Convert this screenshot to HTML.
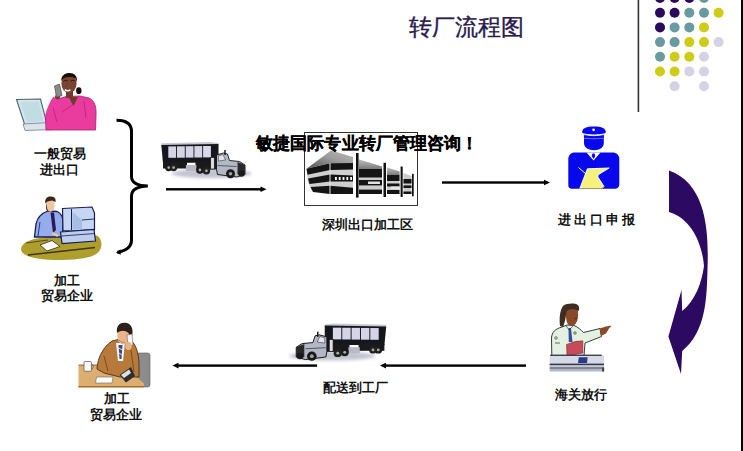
<!DOCTYPE html>
<html><head><meta charset="utf-8">
<style>
html,body{margin:0;padding:0;background:#fff;}
#wrap{position:relative;width:743px;height:451px;overflow:hidden;background:#fff;font-family:"Liberation Sans",sans-serif;}
svg{position:absolute;left:0;top:0;}
.t{position:absolute;white-space:nowrap;line-height:1;color:#111;font-weight:bold;}
</style></head><body>
<div id="wrap">
<svg width="743" height="451" viewBox="0 0 743 451">
<!-- right border -->
<rect x="741" y="0" width="2" height="451" fill="#000"/>
<!-- top divider -->
<rect x="637.6" y="0" width="1.6" height="112" fill="#333"/>
<!-- dots -->
<g id="dots">
<circle cx="660.0" cy="-2.0" r="5" fill="#2b0a5e"/>
<circle cx="674.6" cy="-2.0" r="5" fill="#2b0a5e"/>
<circle cx="689.3" cy="-2.0" r="5" fill="#2b0a5e"/>
<circle cx="704.0" cy="-2.0" r="5" fill="#699a9f"/>
<circle cx="660.0" cy="12.7" r="5" fill="#2b0a5e"/>
<circle cx="674.6" cy="12.7" r="5" fill="#2b0a5e"/>
<circle cx="689.3" cy="12.7" r="5" fill="#699a9f"/>
<circle cx="704.0" cy="12.7" r="5" fill="#699a9f"/>
<circle cx="718.6" cy="12.7" r="5" fill="#cecc16"/>
<circle cx="660.0" cy="27.4" r="5" fill="#2b0a5e"/>
<circle cx="674.6" cy="27.4" r="5" fill="#699a9f"/>
<circle cx="689.3" cy="27.4" r="5" fill="#699a9f"/>
<circle cx="704.0" cy="27.4" r="5" fill="#cecc16"/>
<circle cx="660.0" cy="42.1" r="5" fill="#699a9f"/>
<circle cx="674.6" cy="42.1" r="5" fill="#699a9f"/>
<circle cx="689.3" cy="42.1" r="5" fill="#cecc16"/>
<circle cx="704.0" cy="42.1" r="5" fill="#cecc16"/>
<circle cx="718.6" cy="42.1" r="5" fill="#d3d3e3"/>
<circle cx="660.0" cy="56.8" r="5" fill="#699a9f"/>
<circle cx="674.6" cy="56.8" r="5" fill="#cecc16"/>
<circle cx="689.3" cy="56.8" r="5" fill="#cecc16"/>
<circle cx="704.0" cy="56.8" r="5" fill="#d3d3e3"/>
<circle cx="660.0" cy="71.5" r="5" fill="#cecc16"/>
<circle cx="674.6" cy="71.5" r="5" fill="#cecc16"/>
<circle cx="689.3" cy="71.5" r="5" fill="#d3d3e3"/>
<circle cx="704.0" cy="71.5" r="5" fill="#d3d3e3"/>
<circle cx="674.6" cy="86.2" r="5" fill="#d3d3e3"/>
<circle cx="704.0" cy="86.2" r="5" fill="#d3d3e3"/>
</g>
<!-- bracket -->
<path d="M116.5,120.2 C126,120.2 131.5,123.5 131.5,131.5 L131.5,176.5 C131.5,182.5 137,185.8 147.8,186 C137,186.4 131.5,189.5 131.5,196 L131.5,240 C131.5,246.5 127,250.5 117.5,252.3" fill="none" stroke="#000" stroke-width="3"/>
<path d="M116,252.8 L120.5,249.2 L120.8,254.8 Z" fill="#000"/>
<!-- arrows -->
<g fill="#000">
<rect x="166" y="188.1" width="96" height="2.4"/>
<path d="M266.5,189.3 L260.5,186.5 L260.5,192.1 Z"/>
<rect x="442" y="181.3" width="103" height="2.4"/>
<path d="M550,182.5 L544,179.7 L544,185.3 Z"/>
<rect x="384" y="364.4" width="142" height="2.4"/>
<path d="M380,365.6 L386,362.8 L386,368.4 Z"/>
<rect x="176" y="364.4" width="141" height="2.4"/>
<path d="M172.5,365.6 L178.5,362.8 L178.5,368.4 Z"/>
</g>
<!-- curved purple arrow -->
<path d="M669,170.6 C707.5,184.2 708.7,234.2 707.5,268.5 C706.7,297.1 706.5,331.1 682.2,351 L681,374 L668.4,336.5 L681.5,290 L682.2,311 C695.6,300.2 701.7,282.5 704,266 C702.3,244.3 691.8,218.7 669,212 Z" fill="#2c0a62"/>

<!-- factory -->
<g id="factory">
<defs>
<linearGradient id="roofg" x1="0" y1="1" x2="1" y2="0"><stop offset="0" stop-color="#505050"/><stop offset="0.55" stop-color="#9c9c9c"/><stop offset="1" stop-color="#b8b8b8"/></linearGradient>
<linearGradient id="roofh" x1="0" y1="0" x2="0" y2="1"><stop offset="0" stop-color="#c0c0c0"/><stop offset="1" stop-color="#7a7a7a"/></linearGradient>
</defs>
<!-- left block -->
<polygon points="306.5,168.8 331,150.5 353,157 353,163 330,163.3" fill="url(#roofg)"/>
<polygon points="306.5,168.8 330,163.3 353,163 353,194 330,194 312,191 308,182" fill="#cfcfcf"/>
<polygon points="306.5,168.8 330,163.3 353,163 353,169.5 330,170 307.5,174.8" fill="#141414"/>
<polygon points="308,178.5 330,174.5 353,175.5 353,181.6 330,181.5 309.5,184" fill="#141414"/>
<polygon points="310.5,187 330,185.8 353,187.7 353,194 330,194 313,192" fill="#141414"/>
<rect x="335" y="177" width="1.8" height="3" fill="#fff"/><rect x="338.8" y="177" width="1.8" height="3" fill="#fff"/><rect x="342.6" y="177" width="1.8" height="3" fill="#fff"/><rect x="346.4" y="177" width="1.8" height="3" fill="#fff"/><rect x="350.2" y="177" width="1.8" height="3" fill="#fff"/>
<rect x="329.5" y="163" width="1" height="31" fill="#e8e8e8"/>
<!-- section 2 -->
<polygon points="359,159.5 382,166.5 382,194 359,194" fill="#cccccc"/>
<polygon points="359,159.5 382,166.5 382,169 359,169" fill="url(#roofh)"/>
<rect x="359" y="169" width="23" height="8.5" fill="#141414"/>
<rect x="359" y="180" width="23" height="5.4" fill="#141414"/>
<rect x="368" y="181.5" width="12" height="2.5" fill="#e0e0e0"/>
<rect x="359" y="189.6" width="23" height="4.4" fill="#141414"/>
<!-- section 3 -->
<polygon points="387,167.5 399.5,171.5 399.5,194 387,194" fill="#cccccc"/>
<polygon points="387,167.5 399.5,171.5 399.5,175 387,175" fill="url(#roofh)"/>
<rect x="387" y="175" width="12.5" height="6" fill="#141414"/>
<rect x="387" y="183.5" width="12.5" height="3" fill="#141414"/>
<rect x="391" y="186.5" width="8" height="2.5" fill="#e6e6e6"/>
<rect x="387" y="190" width="12.5" height="4" fill="#141414"/>
<!-- section 4 -->
<polygon points="403.5,173 411.5,176 411.5,194 403.5,194" fill="#cccccc"/>
<rect x="403.5" y="179" width="8" height="4.5" fill="#141414"/>
<rect x="403.5" y="185.4" width="8" height="2.6" fill="#141414"/>
<rect x="403.5" y="191.5" width="8" height="2.5" fill="#141414"/>
<!-- pillars -->
<rect x="356" y="153" width="2.6" height="44.6" fill="#111"/>
<rect x="383.5" y="162.8" width="2.5" height="34.2" fill="#111"/>
<rect x="400.6" y="166.5" width="2.1" height="30.5" fill="#111"/>
<rect x="412" y="173.8" width="1.7" height="22.5" fill="#111"/>
</g>

<defs>
<filter id="blur1" x="-20%" y="-50%" width="140%" height="200%"><feGaussianBlur stdDeviation="1.5"/></filter>
<g id="truck">
<ellipse cx="50" cy="32" rx="40" ry="4.5" fill="#c4c4d0" filter="url(#blur1)"/>
<polygon points="-0.2,1.8 49,0.5 57,1.5 57,4 -0.2,5" fill="#c8c8d4"/>
<polygon points="-0.2,3.5 57,2.5 57,21 1.5,21.5" fill="#16161e"/>
<rect x="6.8" y="4.9" width="7.8" height="11.4" fill="#d4d4e6"/>
<rect x="15.5" y="4.8" width="7.8" height="11.4" fill="#d4d4e6"/>
<rect x="24.2" y="4.7" width="7.8" height="11.4" fill="#d4d4e6"/>
<rect x="32.9" y="4.6" width="7.8" height="11.4" fill="#d4d4e6"/>
<rect x="41.6" y="4.5" width="7.8" height="11.4" fill="#d8d8e8"/>
<rect x="1.5" y="20" width="24" height="7" fill="#1a1a1a"/>
<rect x="34" y="20" width="22" height="8" fill="#1a1a1a"/>
<rect x="24.4" y="23.5" width="10.5" height="6" fill="#b8b8c6"/>
<circle cx="7.2" cy="26.1" r="3.6" fill="#1a1a1a"/><circle cx="12.1" cy="26.1" r="3.6" fill="#222"/>
<circle cx="38.4" cy="28.5" r="3.8" fill="#1a1a1a"/><circle cx="44.9" cy="29.3" r="3.8" fill="#222"/>
<circle cx="7.2" cy="26.1" r="1.3" fill="#aaa"/><circle cx="12.1" cy="26.1" r="1.3" fill="#aaa"/><circle cx="38.4" cy="28.5" r="1.4" fill="#aaa"/><circle cx="44.9" cy="29.3" r="1.4" fill="#aaa"/>
<rect x="49.2" y="16" width="3.6" height="11.5" fill="#e0e0ea" stroke="#111" stroke-width="0.7"/>
<polygon points="55,13.5 62,11.5 66,12.5 68,19 78,20 83.5,23.5 83.5,33 75,35.5 56,33 55,28" fill="#b4b8c6" stroke="#111" stroke-width="0.9"/>
<polygon points="57,14.5 61.5,13 64,18.5 57,19.5" fill="#e4e4ee" stroke="#222" stroke-width="0.5"/>
<rect x="62.8" y="8.5" width="1.4" height="5" fill="#111"/>
<polygon points="76,20.5 83.5,23.5 83.5,33 76,33" fill="#2a2a2a"/>
<path d="M56,24 L75,25" stroke="#333" stroke-width="0.7"/>
<circle cx="69" cy="32.2" r="4.5" fill="#1a1a1a"/><circle cx="69" cy="32.2" r="1.8" fill="#a0a0a0"/>
<circle cx="80" cy="32" r="3.2" fill="#1a1a1a"/>
</g>
</defs>
<use href="#truck" x="161.5" y="141.5"/>
<use href="#truck" transform="translate(386,323) scale(-1.075,1.03)"/>

<!-- woman -->
<g id="woman">
<polygon points="16.5,99.5 40.5,99 47,124 25,125.5" fill="#d2e8ee" stroke="#4e606c" stroke-width="1.1"/>
<polygon points="20,102 38.5,101.5 43.5,121 27,122.5" fill="#c2dce4"/>
<polygon points="23,124 50,122.5 55,129.5 25,130.5" fill="#dce4ea" stroke="#7c8a96" stroke-width="0.9"/>
<path d="M46,130 L45.5,117 C47,110 52,102 58,99 L66,96.5 L80,96 L89,98 C95,101 96.5,107 96,116 L95.5,130 Z" fill="#ea3c9e" stroke="#a81a68" stroke-width="0.8"/>
<path d="M52,104 L57,122 M84,101 L86,118 M62,112 L74,104" stroke="#b42478" stroke-width="0.8" fill="none"/>
<polygon points="68.5,97 78,97 73.5,106" fill="#6e3c28"/>
<path d="M47,118 C49,110 52,103 55.5,98" stroke="#ea3c9e" stroke-width="5" fill="none"/>
<ellipse cx="57.5" cy="97" rx="2.6" ry="2.2" fill="#6e3c28"/>
<rect x="66" y="90" width="7" height="8" fill="#6e3c28"/>
<ellipse cx="69" cy="83.5" rx="7.6" ry="9.6" fill="#7a4430"/>
<path d="M63.5,81 Q66,79.5 68,81 M70.5,81 Q73,79.5 75,81" stroke="#2a120a" stroke-width="0.8" fill="none"/>
<path d="M61.3,81 C61,75.5 65,73 69.5,73 C74.5,73 77.5,76 77,82 L75.5,78.5 C72.5,76.5 66,76.5 62.8,79 Z" fill="#1a0c08"/>
<ellipse cx="78.8" cy="90.7" rx="2.7" ry="3.4" fill="#1a0c08"/>
<path d="M64.8,89.6 Q67.5,91.6 70.5,89.8" stroke="#fff" stroke-width="1.5" fill="none"/>
<polygon points="54.5,86 59.5,84 62,95.5 56.5,97.5" fill="#8a8a8a" stroke="#3a3a3a" stroke-width="0.6"/>
</g>
<!-- man at computer -->
<g id="man1">
<path d="M21.5,247 C24,241 34,238 48,237 L70,236 L97,235.5 C101,238 103,244 100,250 C97,256 86,259.5 62,260 C42,260 30,258 24,254 C21,252 20.5,249 21.5,247 Z" fill="#ae9e2e"/>
<path d="M28,255 L95,247.5" stroke="#403608" stroke-width="1.3"/>
<path d="M26,243 L48,240" stroke="#5a4c10" stroke-width="1"/>
<polygon points="40,245 52,240.5 60,246.5 47,251" fill="#fff" stroke="#2a2a2a" stroke-width="0.8"/>
<path d="M34.5,237 L36,224 C37.5,217 42,213 48,211 L57,211.5 C61,213 63,217 63,223 L63,237 Z" fill="#94acec" stroke="#141c5c" stroke-width="1.3"/>
<path d="M40,222 L38,236" stroke="#141c5c" stroke-width="0.8"/>
<polygon points="50.5,212.5 54,212.5 56,230 53,233" fill="#2c1856"/>
<path d="M52,233 L58,236" stroke="#f0c8a0" stroke-width="2"/>
<ellipse cx="50.3" cy="205.5" rx="4.3" ry="6.2" fill="#f0c8a0"/>
<path d="M46.5,203 C46.5,208 47.5,211 50,211.5 L47.5,211.5 C46,210 45.5,206 46.5,203 Z" fill="#4a2a18"/>
<path d="M45.3,203.5 C44.5,198 48,196.3 51,196.5 C55,196.8 56,199 55.5,202 L52,200.5 L47.5,201.5 Z" fill="#3e2412"/>
<polygon points="62.5,208.5 92,207 94.5,213 94.5,229.5 72,231 63,230.5" fill="#c6d6f2" stroke="#161e52" stroke-width="1.2"/>
<path d="M71.5,209 L71.5,230" stroke="#161e52" stroke-width="1"/>
<polygon points="72.5,212 82,220 82,229.5 72.5,229.5" fill="#a8bce4"/>
<path d="M82,220 L94,219" stroke="#161e52" stroke-width="0.9"/>
<polygon points="60.5,232 94,229.5 95.5,241 62,243.5" fill="#bccdee" stroke="#161e52" stroke-width="1.2"/>
<path d="M61.5,236 L95,233.5" stroke="#161e52" stroke-width="0.8"/>
</g>
<!-- man with phone -->
<g id="man2">
<rect x="136.5" y="353" width="13.5" height="34" rx="2.5" fill="#8c8c8c" stroke="#5a5a5a" stroke-width="0.6"/>
<polygon points="78.5,365 100,365 138,378 144,383.5 144,388 78.5,388" fill="#dcae72"/>
<path d="M78.5,365 L100,365" stroke="#7a5228" stroke-width="0.8"/>
<path d="M78.5,386.5 L144,386.5" stroke="#9a7040" stroke-width="1"/>
<path d="M97,369 C97.5,358 103,347 112,341 L120,339 L130,340 C135,343 138,350 139,362 L139,377 L120,377 L104,373 Z" fill="#b87a3a" stroke="#3a2410" stroke-width="0.8"/>
<path d="M104,356 L108,371 M131,350 L134,372" stroke="#6a4018" stroke-width="0.8" fill="none"/>
<polygon points="116,343 125,343 123,361 118,361" fill="#f6f6f6"/>
<polygon points="118.5,345 122.5,345 121.5,359 119.5,359" fill="#3e4a80"/>
<path d="M118.5,348 L122.5,350 M119,353 L122,355" stroke="#fff" stroke-width="0.8"/>
<ellipse cx="123.3" cy="336" rx="6" ry="8.5" fill="#e8b48c"/>
<path d="M119,340 C120,342 123,343 125,342" stroke="#a06040" stroke-width="0.6" fill="none"/>
<path d="M117,333 C116,325.5 120,322.5 125,322.8 C130,323 133,327 132.5,333 L131.5,340 L128.5,333 C125,330 121,330 117,333 Z" fill="#2a2018"/>
<polygon points="127,335 132,334 133,345 128,346" fill="#f4f4f4" stroke="#555" stroke-width="0.5"/>
<ellipse cx="128.5" cy="346" rx="3.2" ry="4" fill="#e8b48c"/>
<polygon points="119.6,375 131,367 135,376 126,382.5" fill="#2e2e2e"/>
<polygon points="121,375 129,369.5 131,373 124,378" fill="#e0e0e0"/>
<polygon points="96.6,377 113,377 112,383 95.5,383" fill="#fff" stroke="#666" stroke-width="0.6"/>
<rect x="84" y="361.5" width="7.4" height="9.8" rx="1" fill="#f6f6f6" stroke="#555" stroke-width="0.7"/>
<path d="M91.4,364 C94,364 94,369 91.4,369" stroke="#555" stroke-width="0.7" fill="none"/>
</g>
<!-- police icon -->
<g id="police">
<path d="M568.3,185 L568.3,159 C568.3,155 571,152.4 575,152.4 L612.5,152.4 C616.5,152.4 619.3,155 619.3,159 L619.3,184.5 C619.3,187 617.5,188.8 615,188.8 L572,188.8 C569.5,188.8 568.3,187.5 568.3,185 Z" fill="#0808ec"/>
<polygon points="586.5,152.4 600.5,152.4 593.5,160.5" fill="#fff"/>
<polygon points="592.5,153.5 594.5,153.5 595.3,156 593.5,159 591.7,156" fill="#0808ec"/>
<path d="M584,138.4 L603.8,138.4 L603.8,143 C603.8,148 599,150.2 594,150.2 C589,150.2 584,148 584,143 Z" fill="#0808ec"/>
<path d="M582.2,132.8 C581.5,128.5 586.5,126.6 594,126.6 C601.5,126.6 606.5,128.5 605.7,132.8 C602,135 586,135 582.2,132.8 Z" fill="#0808ec"/>
<path d="M583.8,134.2 Q594,137.2 604.2,134.2 L603.8,138.6 L584,138.6 Z" fill="#0808ec"/>
<path d="M583.5,134.6 Q594,136.8 604.5,134.6" stroke="#fff" stroke-width="0.8" fill="none"/>
<path d="M584.5,138.2 Q594,139.8 603.5,138.2" stroke="#8a8aff" stroke-width="0.5" fill="none"/>
<circle cx="593.6" cy="129.8" r="1.4" fill="#fff"/>
<path d="M587.4,168.8 L609.2,168 L599,174.2 C597.5,175.3 597.5,176.8 598.5,178 L604,186.5 L602,188.6 L579.8,188.6 Z" fill="#f4f27c" stroke="#fff" stroke-width="0.9"/>
<path d="M580,188.6 L602,188.6 L604,186.5" stroke="#6a6a30" stroke-width="0.7" fill="none"/>
<path d="M578.5,167.5 L586,174" stroke="#fff" stroke-width="1"/>

</g>
<!-- officer -->
<g id="officer">
<path d="M551.8,356 L551.5,338 C552,332 555,329 562,327 L567,325 L574,325.5 C578,327 581,330 583.5,332.5 L600,328.5 L601.5,336.5 L585,343 L584,356 Z" fill="#e4f0e2" stroke="#1e2a1e" stroke-width="0.9"/>
<path d="M555,343 L560,343 M576,342 L582,342" stroke="#3a4a3a" stroke-width="0.8"/>
<circle cx="556" cy="338" r="1.3" fill="none" stroke="#3a4a3a" stroke-width="0.7"/>
<circle cx="575" cy="333" r="1.3" fill="#c8c860" stroke="#3a4a3a" stroke-width="0.6"/>
<polygon points="599.6,328.5 606,326.5 611.8,325.5 609,328.5 606,333.5 601,336" fill="#8a4a2a"/>
<polygon points="568.5,328 571,328 572.5,342 568.8,342" fill="#2e4ca4"/>
<path d="M566,325.5 L569,330 L573,326" stroke="#1e2a1e" stroke-width="0.6" fill="none"/>
<path d="M566,311 C566,306 570,305 574,306 C578,307.5 578.5,312 578,317 C577.5,322 575,326 571,326 C567,325.5 565.5,320 566,311 Z" fill="#8a4a2a"/>
<path d="M560,326 C559,318 560,310 563,306 C566,303.5 572,303 576,304 C579,305 580,308 578.5,311 C575,308.5 569,308.5 567,311 C565.5,315 566,320 563,327 Z" fill="#3e2e20"/>
<path d="M574,318 Q576,320 577,318" stroke="#3a1a0a" stroke-width="0.6" fill="none"/>
<polygon points="566.5,344.5 575,341.5 582.8,340.8 582.8,353 567,356" fill="#c84a5a" stroke="#6a1a20" stroke-width="0.5"/>
<rect x="549.7" y="355.3" width="54.3" height="16" fill="#d6dae6"/>
<rect x="550.2" y="354.6" width="51.5" height="1.3" fill="#2e3440"/>
<rect x="549.7" y="363.6" width="54.3" height="1.8" fill="#323a4c"/>
<rect x="549.7" y="365.4" width="54.3" height="2.3" fill="#c4c8d4"/>
<rect x="549.7" y="367.5" width="54.3" height="1.2" fill="#3a4254"/>
<rect x="549.7" y="368.7" width="54.3" height="2.7" fill="#b4b8c6"/>
<rect x="602" y="367.5" width="2.2" height="4" fill="#3a4254"/>
<polygon points="578.8,357.3 587.6,357.3 587,362.9 578,362.9" fill="#2a3a84"/>
</g>
<!-- factory box -->
<rect x="304.5" y="132.5" width="113" height="73" fill="none" stroke="#333" stroke-width="1"/>
</svg>

<div class="t" style="left:409px;top:16px;font-size:23px;font-weight:normal;color:#281a4e;-webkit-text-stroke:0.35px #281a4e;">转厂流程图</div>
<div class="t" style="left:256px;top:136px;font-size:16.7px;color:#000;letter-spacing:0.12px;-webkit-text-stroke:0.25px #000;">敏捷国际专业转厂管理咨询！</div>
<div class="t" style="left:34px;top:147px;font-size:13px;">一般贸易</div>
<div class="t" style="left:40px;top:163px;font-size:13px;">进出口</div>
<div class="t" style="left:54px;top:274px;font-size:13px;">加工</div>
<div class="t" style="left:41px;top:289px;font-size:13px;">贸易企业</div>
<div class="t" style="left:104px;top:392px;font-size:13px;">加工</div>
<div class="t" style="left:90px;top:408px;font-size:13px;">贸易企业</div>
<div class="t" style="left:322px;top:218px;font-size:13px;">深圳出口加工区</div>
<div class="t" style="left:558px;top:213px;font-size:13px;letter-spacing:3px;">进出口申报</div>
<div class="t" style="left:323px;top:381px;font-size:13px;">配送到工厂</div>
<div class="t" style="left:555px;top:388px;font-size:13px;">海关放行</div>
</div>
</body></html>
